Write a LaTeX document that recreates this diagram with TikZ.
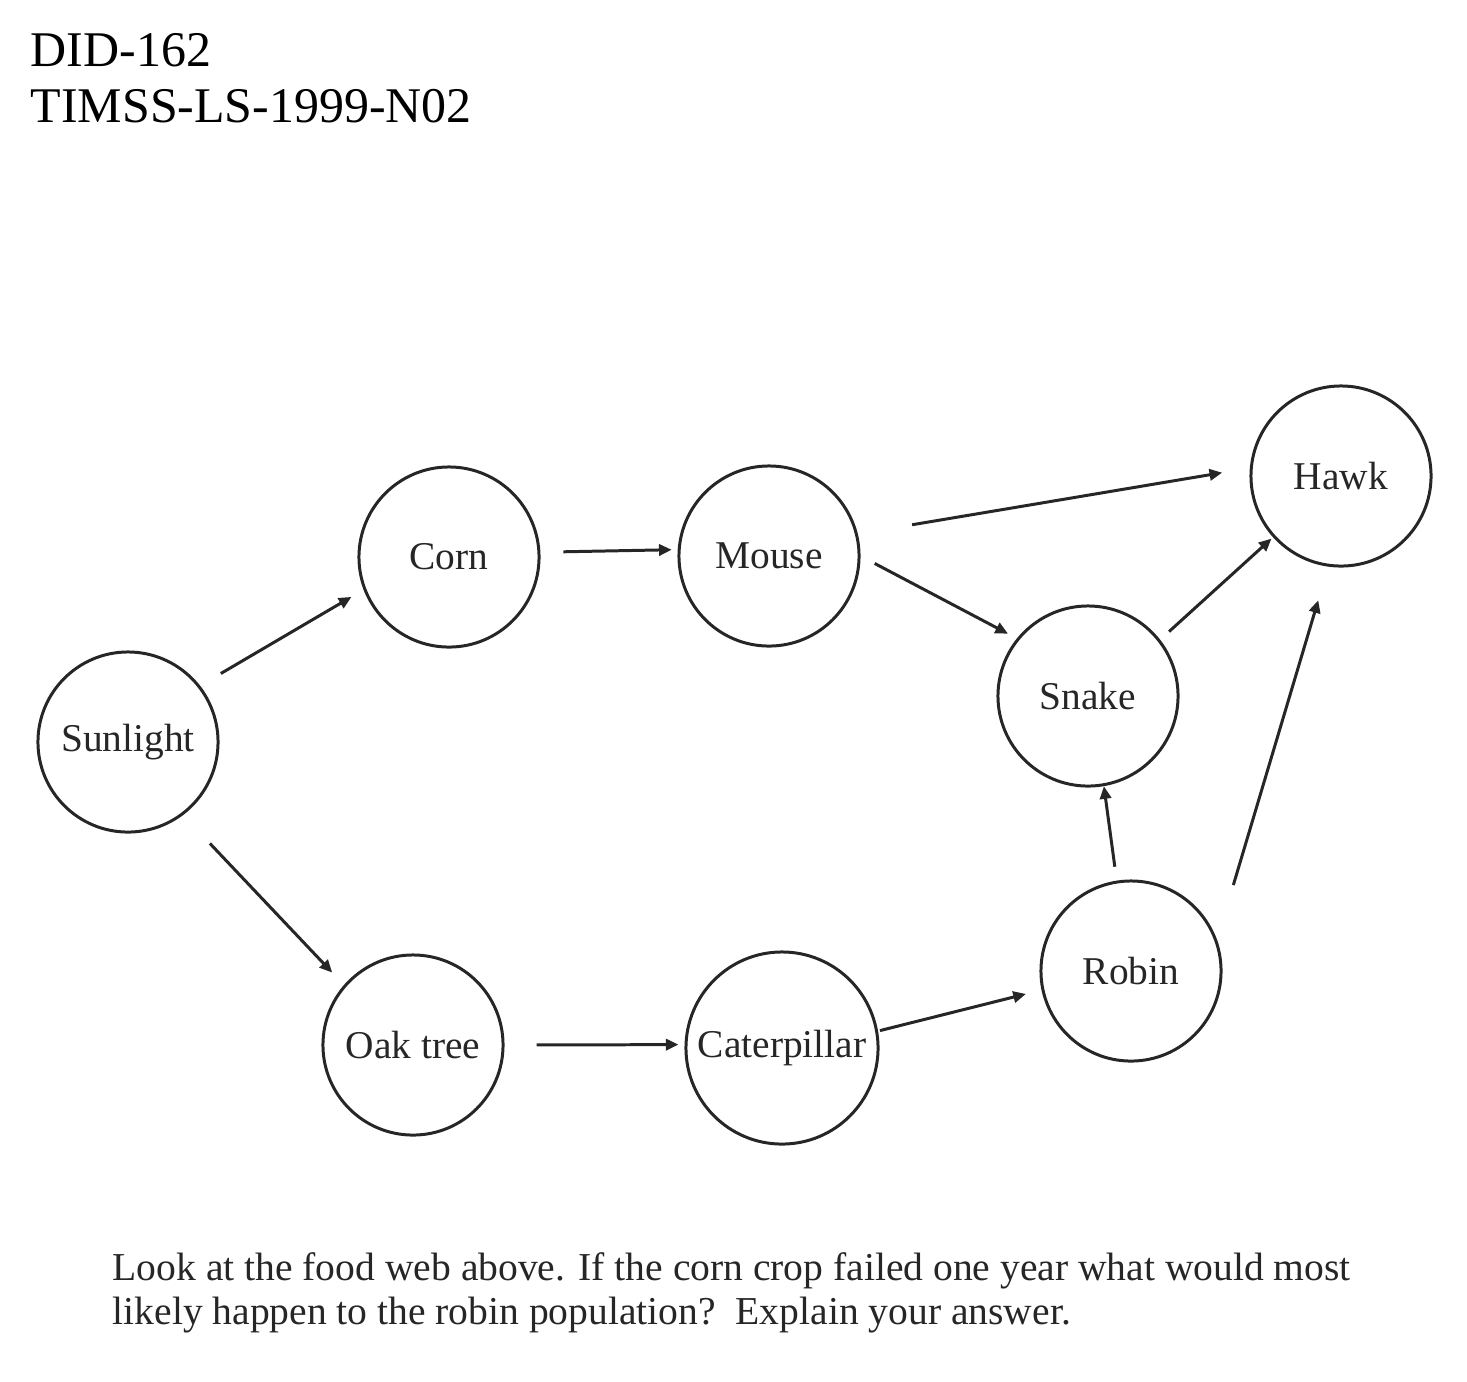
\documentclass[tikz,border=0pt]{standalone}
\usepackage{fontspec}
\setmainfont{Liberation Serif}
\usetikzlibrary{arrows.meta}
\begin{document}
\begin{tikzpicture}[x=0.01cm,y=-0.01cm,
  web/.style={circle,draw=black!85,line width=0.85pt,minimum size=1.8cm,inner sep=0pt,
    font=\fontsize{11.2}{13}\selectfont,text=black!85},
  arr/.style={draw=black!85,line width=0.85pt,-{Triangle[length=3.6pt,width=3.2pt]}},
  hdr/.style={anchor=base west,inner sep=0pt,font=\fontsize{14.2}{17}\selectfont},
  qtext/.style={anchor=base west,inner sep=0pt,font=\fontsize{11.25}{13.4}\selectfont,text=black!85}]
\useasboundingbox (0,0) rectangle (1467,1381);
% header
\node[hdr] (h1) at (30,66) {DID-162};
\node[hdr] (h2) at (30,122) {TIMSS-LS-1999-N02};
% nodes
\node[web] (sun) at (128,742) {Sunlight};
\node[web] (corn) at (449,557) {Corn};
\node[web] (mouse) at (769,556) {Mouse};
\node[web] (hawk) at (1341,476) {Hawk};
\node[web] (snake) at (1088,696) {Snake};
\node[web] (robin) at (1131,971) {Robin};
\node[web] (oak) at (413,1045) {Oak tree};
\node[web,minimum size=1.92cm] (cat) at (782,1048) {Caterpillar};
% connectors
\draw[arr,shorten <=0.24cm,shorten >=0.14cm] (sun.38) -- (corn.201);
\draw[arr,shorten <=0.23cm,shorten >=0.06cm] (corn.3.5) -- (mouse.176.4);
\draw[arr,shorten <=0.55cm,shorten >=0.28cm] (mouse.14.3) -- (hawk.175.7);
\draw[arr,shorten <=0.16cm,shorten >=0.10cm] (mouse.-0.5) -- (snake.141);
\draw[arr,shorten <=0.12cm,shorten >=0.02cm] (snake.38.2) -- (hawk.222.4);
\draw[arr,shorten <=0.14cm,shorten >=0cm] (robin.99.9) -- (snake.-80.1);
\draw[arr,shorten <=0.57cm,shorten >=0.35cm] (robin.20) -- (hawk.262);
\draw[arr,shorten <=0.39cm,shorten >=0.17cm] (sun.-53.2) -- (oak.139.2);
\draw[arr,shorten <=0.32cm,shorten >=0.06cm] (oak.-0.5) -- (cat.178.9);
\draw[arr,shorten <=0.02cm,shorten >=0.16cm] (cat.10.4) -- (robin.192);
% question
\node[qtext] (q1) at (112,1280) {Look at the food web above. If the corn crop failed one year what would most};
\node[qtext] (q2) at (112,1324) {likely happen to the robin population?\ \ Explain your answer.};
\end{tikzpicture}
\end{document}
